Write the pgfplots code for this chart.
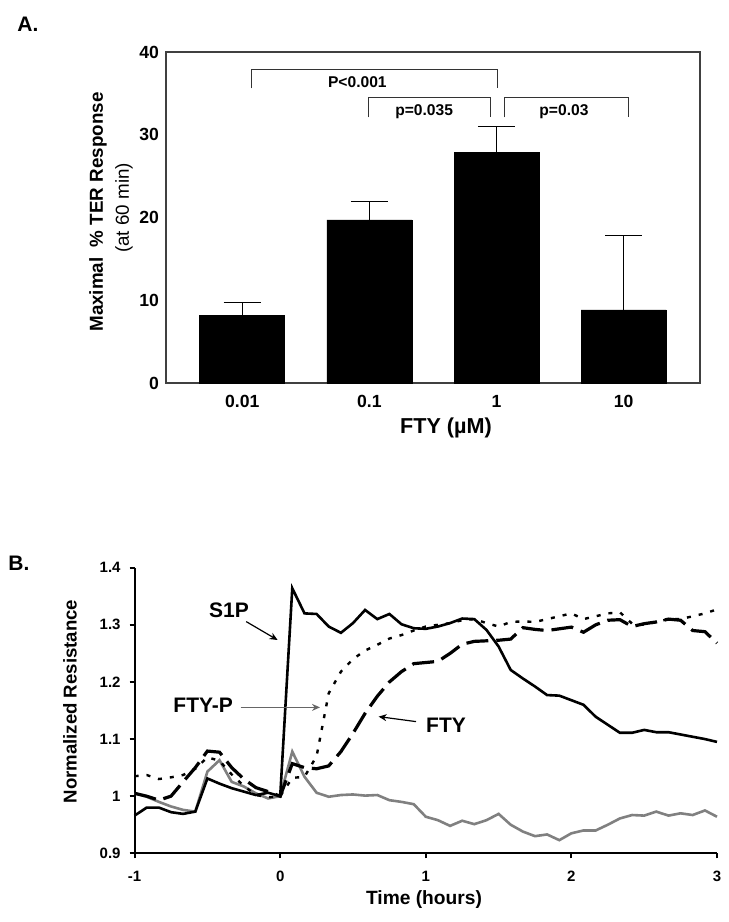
\documentclass[border=0pt]{standalone}
\usepackage{fontspec}
\setmainfont{Liberation Sans}
\usepackage{pgfplots}
\usepackage{pgfplotstable}
\pgfplotsset{compat=1.18}
\usetikzlibrary{arrows.meta}

\pgfplotstableread{
t      s1p    ftyp   fty    veh
-1.000 0.966  1.035  1.005  1.005
-0.917 0.980  1.037  1.000  0.999
-0.833 0.980  1.030  0.993  0.990
-0.750 0.972  1.033  1.000  0.982
-0.667 0.969  1.037  1.025  0.976
-0.583 0.973  1.048  1.050  0.973
-0.500 1.031  1.068  1.079  1.043
-0.417 1.022  1.062  1.077  1.063
-0.333 1.014  1.038  1.050  1.025
-0.250 1.008  1.018  1.030  1.017
-0.167 1.002  1.002  1.015  1.005
-0.083 1.006  0.998  1.008  0.996
0.000  1.000  1.000  1.000  1.000
0.083  1.364  1.032  1.057  1.078
0.167  1.320  1.034  1.050  1.034
0.250  1.319  1.070  1.048  1.006
0.333  1.297  1.180  1.053  0.999
0.417  1.286  1.218  1.078  1.002
0.500  1.303  1.240  1.110  1.003
0.583  1.326  1.255  1.145  1.001
0.667  1.310  1.265  1.175  1.002
0.750  1.319  1.276  1.200  0.993
0.833  1.301  1.282  1.218  0.990
0.917  1.294  1.290  1.232  0.986
1.000  1.293  1.297  1.234  0.964
1.083  1.297  1.300  1.236  0.958
1.167  1.303  1.303  1.250  0.948
1.250  1.311  1.308  1.266  0.957
1.333  1.310  1.310  1.271  0.951
1.417  1.291  1.303  1.272  0.958
1.500  1.262  1.297  1.273  0.969
1.583  1.221  1.305  1.275  0.950
1.667  1.206  1.306  1.295  0.938
1.750  1.192  1.305  1.292  0.930
1.833  1.177  1.310  1.290  0.933
1.917  1.176  1.315  1.293  0.923
2.000  1.168  1.320  1.296  0.935
2.083  1.160  1.310  1.287  0.940
2.167  1.139  1.315  1.300  0.940
2.250  1.125  1.320  1.308  0.950
2.333  1.111  1.322  1.309  0.961
2.417  1.111  1.302  1.297  0.967
2.500  1.116  1.300  1.302  0.966
2.583  1.112  1.305  1.305  0.973
2.667  1.112  1.310  1.310  0.966
2.750  1.108  1.310  1.308  0.970
2.833  1.104  1.315  1.290  0.967
2.917  1.100  1.320  1.288  0.975
3.000  1.095  1.327  1.268  0.964
}\bdata

\begin{document}
\begin{tikzpicture}
\path[use as bounding box] (0,0) rectangle (364.5pt,461pt);

% ---------- Panel A ----------
\begin{axis}[
  at={(83pt,269.5pt)}, anchor=south west,
  scale only axis, width=267pt, height=165.5pt,
  xmin=-0.6, xmax=3.6, ymin=0, ymax=40,
  xtick={0,1,2,3}, xticklabels={0.01,0.1,1,10},
  ytick={0,10,20,30,40},
  major tick length=0pt,
  axis line style={black!75, line width=0.6pt},
  tick label style={font=\fontsize{8.8}{10}\selectfont\bfseries},
  /pgf/number format/assume math mode=true,
  xticklabel style={yshift=-2.5pt},
  clip=false,
]
\addplot[ybar, bar width=42.5pt, fill=black, draw=black,
  error bars/.cd, y dir=plus, y explicit,
  error bar style={line width=0.6pt, black},
  error mark options={rotate=90, mark size=9.3pt, line width=0.6pt, black}]
  coordinates {(0,8.15) +- (0,1.53) (1,19.7) +- (0,2.2) (2,27.9) +- (0,3.1) (3,8.83) +- (0,8.97)};
\draw[line width=0.6pt, black!80] (axis cs:0.07,35.6) -- (axis cs:0.07,37.9) -- (axis cs:2.01,37.9) -- (axis cs:2.01,35.6);
\draw[line width=0.6pt, black!80] (axis cs:0.99,32.1) -- (axis cs:0.99,34.5) -- (axis cs:1.955,34.5) -- (axis cs:1.955,32.1);
\draw[line width=0.6pt, black!80] (axis cs:2.065,32.1) -- (axis cs:2.065,34.5) -- (axis cs:3.04,34.5) -- (axis cs:3.04,32.1);
\node[font=\fontsize{7.8}{9}\selectfont\bfseries] at (axis cs:0.905,36.3) {P<0.001};
\node[font=\fontsize{7.8}{9}\selectfont\bfseries] at (axis cs:1.43,32.8) {p=0.035};
\node[font=\fontsize{7.8}{9}\selectfont\bfseries] at (axis cs:2.53,32.8) {p=0.03};
\end{axis}

\node[font=\fontsize{10.5}{12}\selectfont\bfseries] at (14pt,449pt) {A.};
\node[rotate=90, font=\fontsize{9.4}{11}\selectfont\bfseries] at (49pt,355pt) {Maximal\ \ \% TER Response};
\node[rotate=90, font=\fontsize{9.4}{11}\selectfont] at (62pt,357pt) {(at 60 min)};
\node[font=\fontsize{10.8}{12}\selectfont\bfseries] at (223pt,247pt) {FTY (µM)};

% ---------- Panel B ----------
\begin{axis}[
  at={(67.3pt,34.35pt)}, anchor=south west,
  scale only axis, width=291.2pt, height=142.8pt,
  xmin=-1, xmax=3, ymin=0.9, ymax=1.4,
  axis lines=left, axis line style={-, line width=1pt, black},
  xtick={-1,0,1,2,3}, xticklabels={-1,0,1,2,3},
  ytick={0.9,1,1.1,1.2,1.3,1.4}, yticklabels={0.9,1,1.1,1.2,1.3,1.4},
  tick align=outside, major tick length=2.5pt,
  tick style={line width=1pt, black},
  tick label style={font=\fontsize{7.5}{8.5}\selectfont\bfseries},
  xticklabel style={yshift=-3pt}, yticklabel style={xshift=-1pt},
  clip=false,
]
\addplot[color=black!50, line width=1.3pt] table[x=t, y=veh] {\bdata};
\addplot[color=black, line width=1.2pt, dash pattern=on 2pt off 4pt] table[x=t, y=ftyp] {\bdata};
\addplot[color=black, line width=1.6pt, dash pattern=on 11pt off 4pt] table[x=t, y=fty] {\bdata};
\addplot[color=black, line width=1.3pt] table[x=t, y=s1p] {\bdata};
\end{axis}

\node[font=\fontsize{10.5}{12}\selectfont\bfseries] at (9.5pt,179.3pt) {B.};
\node[rotate=90, font=\fontsize{9.3}{11}\selectfont\bfseries] at (35pt,110.2pt) {Normalized Resistance};
\node[font=\fontsize{9.6}{11}\selectfont\bfseries] at (212pt,11pt) {Time (hours)};

\node[font=\fontsize{10.5}{12}\selectfont\bfseries] at (114.5pt,156pt) {S1P};
\node[font=\fontsize{10.5}{12}\selectfont\bfseries] at (101.6pt,108.5pt) {FTY-P};
\node[font=\fontsize{10.5}{12}\selectfont\bfseries] at (223pt,98.5pt) {FTY};
\draw[line width=0.6pt, -{Stealth[length=4pt,width=3.5pt]}] (123.1pt,150.2pt) -- (138.8pt,141pt);
\draw[line width=0.6pt, black!60, -{Stealth[length=4pt,width=3.5pt]}] (120.3pt,107.3pt) -- (160pt,107.3pt);
\draw[line width=0.6pt, -{Stealth[length=4pt,width=3.5pt]}] (208pt,100.2pt) -- (189.3pt,102.7pt);
\end{tikzpicture}
\end{document}
